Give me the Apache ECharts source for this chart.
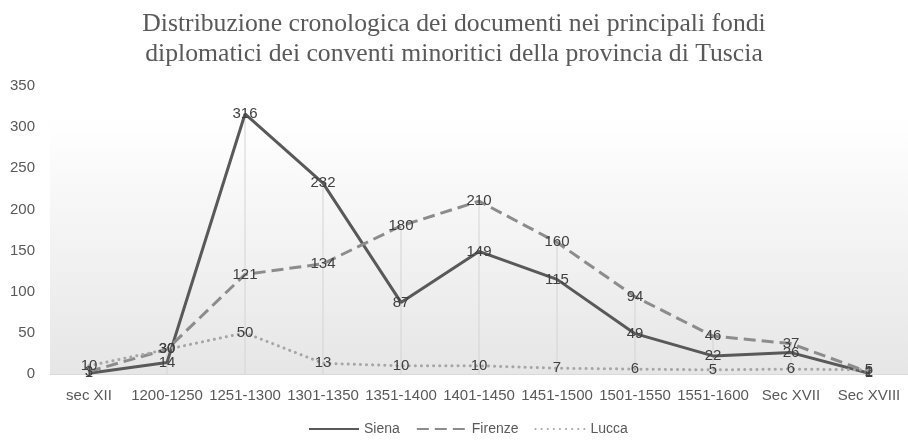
<!DOCTYPE html>
<html>
<head>
<meta charset="utf-8">
<script src="https://cdn.jsdelivr.net/npm/echarts@6/dist/echarts.min.js"></script>
<style>
  html, body { margin: 0; padding: 0; background: #fff; }
  #chart { width: 908px; height: 443px; }
</style>
</head>
<body>
<div id="chart"></div>
<script>
// chart data
var periodi = ['sec XII', '1200-1250', '1251-1300', '1301-1350', '1351-1400', '1401-1450',
    '1451-1500', '1501-1550', '1551-1600', 'Sec XVII', 'Sec XVIII'];
var siena   = [1, 14, 316, 232, 87, 149, 115, 49, 22, 26, 1];
var firenze = [3, 30, 121, 134, 180, 210, 160, 94, 46, 37, 2];
var lucca   = [10, 30, 50, 13, 10, 10, 7, 6, 5, 6, 5];

// drop lines go from the highest value of each period down to the axis
var maxValues = periodi.map(function (p, i) {
    return Math.max(siena[i], firenze[i], lucca[i]);
});

var labelFont = 'Liberation Sans Narrow, Liberation Sans, sans-serif';

function lineSeries(name, data, color, type, cap) {
    return {
        name: name,
        type: 'line',
        data: data,
        symbol: 'circle',
        symbolSize: 0.1,
        showSymbol: true,
        z: 3,
        lineStyle: { color: color, width: 3, type: type, cap: cap },
        itemStyle: { color: color },
        label: {
            show: true,
            position: 'inside',
            color: '#404040',
            fontSize: 15,
            fontFamily: labelFont
        },
        labelLayout: { hideOverlap: false }
    };
}

var chart = echarts.init(document.getElementById('chart'), null, { renderer: 'canvas' });
var option = {
    animation: false,
    title: {
        text: 'Distribuzione cronologica dei documenti nei principali fondi\ndiplomatici dei conventi minoritici della provincia di Tuscia',
        left: 'center',
        top: 4,
        textStyle: {
            fontFamily: 'Liberation Serif, serif',
            fontWeight: 'normal',
            fontSize: 25.7,
            lineHeight: 30,
            color: '#595959'
        }
    },
    graphic: [{
        type: 'rect',
        z: 0,
        silent: true,
        shape: { x: 50, y: 118, width: 858, height: 256 },
        style: {
            fill: new echarts.graphic.LinearGradient(0, 0, 0, 1, [
                { offset: 0, color: '#ffffff' },
                { offset: 1, color: '#e6e6e6' }
            ])
        }
    }],
    legend: {
        bottom: 2,
        left: 303,
        data: ['Siena', 'Firenze', 'Lucca'],
        itemWidth: 50,
        itemHeight: 10,
        itemGap: 16,
        itemStyle: { opacity: 0 },
        textStyle: { color: '#595959', fontSize: 14, fontFamily: labelFont }
    },
    grid: { left: 50, right: 0, top: 86, bottom: 69 },
    xAxis: {
        type: 'category',
        data: periodi,
        axisLine: { lineStyle: { color: '#d9d9d9', width: 1 } },
        axisTick: { show: false },
        axisLabel: {
            interval: 0,
            color: '#595959',
            fontSize: 15,
            margin: 14,
            fontFamily: labelFont
        }
    },
    yAxis: {
        type: 'value',
        min: 0,
        max: 350,
        interval: 50,
        axisLine: { show: false },
        axisTick: { show: false },
        splitLine: { show: false },
        axisLabel: {
            color: '#595959',
            fontSize: 15,
            margin: 15,
            fontFamily: labelFont
        }
    },
    series: [
        {
            name: 'drop',
            type: 'bar',
            data: maxValues,
            barWidth: 1,
            silent: true,
            z: 1,
            itemStyle: { color: '#d4d4d4' }
        },
        lineSeries('Siena', siena, '#595959', 'solid', 'butt'),
        lineSeries('Firenze', firenze, '#8c8c8c', [12, 6], 'butt'),
        lineSeries('Lucca', lucca, '#a6a6a6', [0.1, 6], 'round')
    ]
};
chart.setOption(option);
</script>
</body>
</html>
